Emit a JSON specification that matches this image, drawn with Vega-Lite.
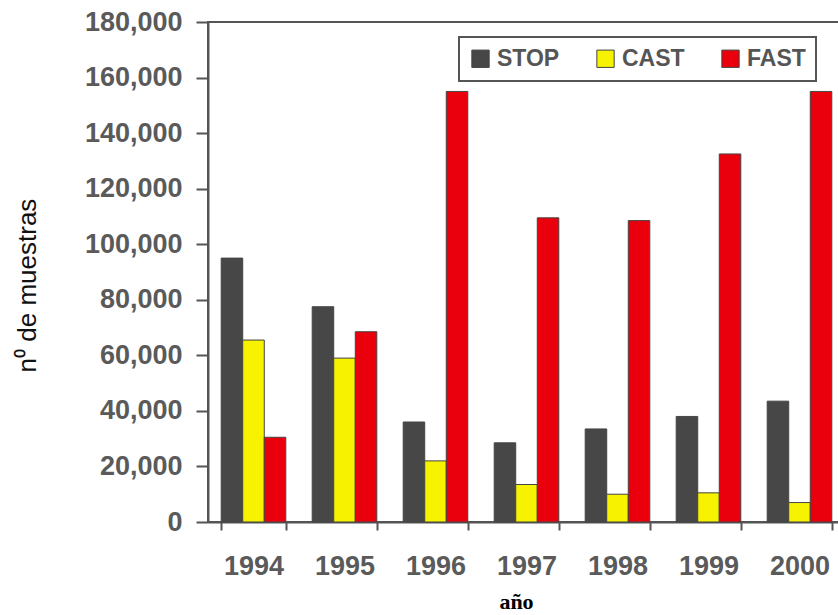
{
  "$schema": "https://vega.github.io/schema/vega-lite/v6.json",
  "width": 637,
  "height": 500,
  "autosize": {"type": "none"},
  "padding": {"left": 208, "top": 22, "right": 0, "bottom": 93},
  "background": "white",
  "config": {
    "view": {"stroke": "#555", "strokeWidth": 2},
    "font": "Liberation Sans"
  },
  "data": {
    "values": [
      {"year": "1994", "serie": "STOP", "value": 95000},
      {"year": "1994", "serie": "CAST", "value": 65500},
      {"year": "1994", "serie": "FAST", "value": 30500},
      {"year": "1995", "serie": "STOP", "value": 77500},
      {"year": "1995", "serie": "CAST", "value": 59000},
      {"year": "1995", "serie": "FAST", "value": 68500},
      {"year": "1996", "serie": "STOP", "value": 36000},
      {"year": "1996", "serie": "CAST", "value": 22000},
      {"year": "1996", "serie": "FAST", "value": 155000},
      {"year": "1997", "serie": "STOP", "value": 28500},
      {"year": "1997", "serie": "CAST", "value": 13500},
      {"year": "1997", "serie": "FAST", "value": 109500},
      {"year": "1998", "serie": "STOP", "value": 33500},
      {"year": "1998", "serie": "CAST", "value": 10000},
      {"year": "1998", "serie": "FAST", "value": 108500},
      {"year": "1999", "serie": "STOP", "value": 38000},
      {"year": "1999", "serie": "CAST", "value": 10500},
      {"year": "1999", "serie": "FAST", "value": 132500},
      {"year": "2000", "serie": "STOP", "value": 43500},
      {"year": "2000", "serie": "CAST", "value": 7000},
      {"year": "2000", "serie": "FAST", "value": 155000}
    ]
  },
  "mark": {"type": "bar", "stroke": "#444", "strokeWidth": 1},
  "encoding": {
    "x": {
      "field": "year",
      "type": "nominal",
      "scale": {"paddingInner": 0.29, "paddingOuter": 0.145},
      "axis": {
        "title": "año",
        "titleFont": "Liberation Serif",
        "titleFontSize": 22,
        "titleFontWeight": "bold",
        "titleColor": "#000",
        "titleX": 308,
        "titleY": 86,
        "titleBaseline": "alphabetic",
        "labelAngle": 0,
        "labelFontSize": 27,
        "labelFontWeight": "bold",
        "labelColor": "#5a5a5a",
        "labelPadding": 23,
        "tickSize": 8,
        "tickColor": "#555",
        "tickWidth": 2,
        "domainColor": "#555",
        "domainWidth": 2,
        "tickBand": "extent"
      }
    },
    "xOffset": {"field": "serie", "type": "nominal", "sort": ["STOP", "CAST", "FAST"], "scale": {"paddingInner": 0}},
    "y": {
      "field": "value",
      "type": "quantitative",
      "scale": {"domain": [0, 180000]},
      "axis": {
        "title": "n⁰ de muestras",
        "titleFont": "Liberation Sans",
        "titleFontSize": 26,
        "titleFontWeight": "normal",
        "titleColor": "#111",
        "titleX": -168,
        "titleY": 263,
        "titleAnchor": "middle",
        "values": [0, 20000, 40000, 60000, 80000, 100000, 120000, 140000, 160000, 180000],
        "format": ",d",
        "labelFontSize": 27,
        "labelFontWeight": "bold",
        "labelColor": "#5a5a5a",
        "labelPadding": 14,
        "tickSize": 12,
        "tickColor": "#555",
        "tickWidth": 2,
        "domainColor": "#555",
        "domainWidth": 2,
        "grid": false
      }
    },
    "color": {
      "field": "serie",
      "type": "nominal",
      "sort": ["STOP", "CAST", "FAST"],
      "scale": {"domain": ["STOP", "CAST", "FAST"], "range": ["#474747", "#f6f200", "#e9000c"]},
      "legend": {
        "title": null,
        "orient": "none",
        "direction": "horizontal",
        "legendX": 251,
        "legendY": 15,
        "symbolType": "square",
        "symbolSize": 300,
        "symbolStrokeColor": "#444",
        "symbolStrokeWidth": 1,
        "labelFontSize": 23,
        "labelFontWeight": "bold",
        "labelColor": "#555",
        "labelOffset": 5,
        "columnPadding": 34,
        "strokeColor": "#555",
        "padding": 10,
        "fillColor": "white",
        "encode": {"legend": {"update": {"strokeWidth": {"value": 2}}}}
      }
    }
  }
}
